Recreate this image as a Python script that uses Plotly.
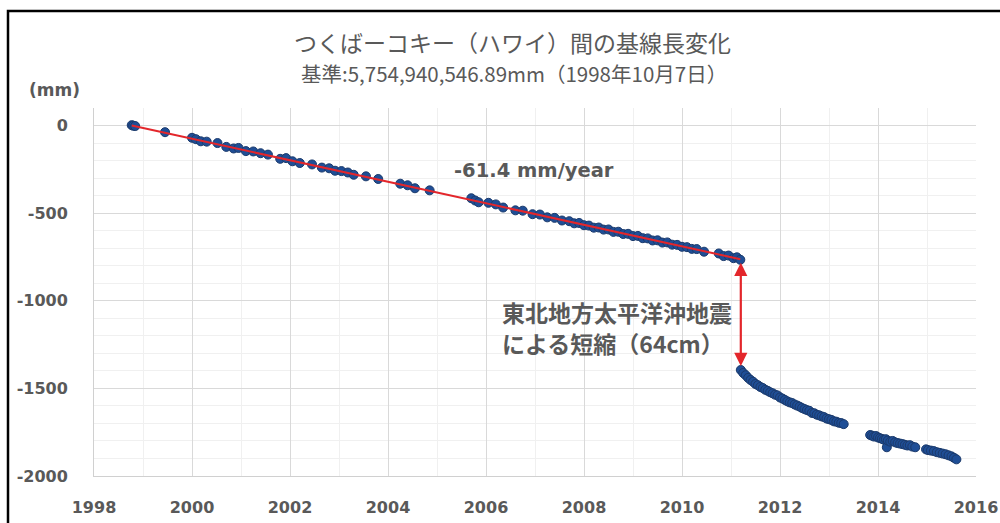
import plotly.graph_objects as go

# Baseline length change, Tsukuba - Kokee (Hawaii), relative to 1998-10-07 (mm)
pre_t = [1998.77, 1998.80, 1998.84, 1999.45, 2000.00, 2000.08, 2000.18, 2000.30,
         2000.52, 2000.70, 2000.85, 2000.95, 2001.10, 2001.25, 2001.40, 2001.55,
         2001.80, 2001.92, 2002.05, 2002.20, 2002.45, 2002.65, 2002.80, 2002.92,
         2003.05, 2003.18, 2003.30, 2003.55, 2003.80, 2004.25, 2004.40, 2004.55,
         2004.85, 2005.70, 2005.78, 2005.85, 2006.05, 2006.20, 2006.35, 2006.60,
         2006.75, 2006.95, 2007.10, 2007.25, 2007.40, 2007.55, 2007.70, 2007.80,
         2007.90, 2008.00, 2008.10, 2008.20, 2008.30, 2008.40, 2008.50, 2008.60,
         2008.70, 2008.80, 2008.90, 2009.00, 2009.10, 2009.20, 2009.30, 2009.40,
         2009.50, 2009.60, 2009.70, 2009.80, 2009.90, 2010.00, 2010.10, 2010.20,
         2010.30, 2010.45, 2010.75, 2010.85, 2010.95, 2011.05, 2011.12, 2011.19]
pre_v = [2, -1, -3, -38, -70, -78, -90, -92,
         -100, -122, -131, -128, -146, -148, -158, -166,
         -190, -186, -204, -214, -222, -240, -244, -258,
         -260, -268, -281, -290, -305, -332, -341, -358,
         -370, -415, -428, -438, -441, -450, -468, -484,
         -486, -506, -508, -524, -527, -542, -546, -558,
         -556, -569, -571, -583, -582, -594, -593, -607,
         -606, -619, -618, -631, -630, -643, -644, -656,
         -655, -668, -667, -680, -681, -692, -694, -704,
         -705, -720, -730, -745, -742, -757, -752, -766]

post_t = [2011.20, 2011.25, 2011.30, 2011.35, 2011.40, 2011.45, 2011.50, 2011.55,
          2011.60, 2011.65, 2011.70, 2011.75, 2011.80, 2011.85, 2011.90, 2011.95,
          2012.00, 2012.05, 2012.10, 2012.15, 2012.20, 2012.25, 2012.30, 2012.35,
          2012.40, 2012.45, 2012.50, 2012.55, 2012.60, 2012.65, 2012.70, 2012.75,
          2012.80, 2012.85, 2012.90, 2012.95, 2013.00, 2013.05, 2013.10, 2013.15,
          2013.20, 2013.25, 2013.30,
          2013.84, 2013.88, 2013.92, 2013.96, 2014.00, 2014.04, 2014.08, 2014.12,
          2014.16, 2014.18, 2014.20, 2014.25, 2014.30, 2014.35, 2014.40, 2014.45,
          2014.50, 2014.55, 2014.60, 2014.65, 2014.70, 2014.76, 2014.98, 2015.02,
          2015.08, 2015.14, 2015.20, 2015.26, 2015.32, 2015.38, 2015.44, 2015.50,
          2015.55, 2015.60]
post_v = [-1395, -1412, -1425, -1440, -1452, -1462, -1475, -1482,
          -1492, -1498, -1508, -1514, -1522, -1528, -1536, -1540,
          -1552, -1558, -1566, -1574, -1580, -1584, -1592, -1598,
          -1604, -1612, -1618, -1624, -1628, -1640, -1642, -1650,
          -1654, -1660, -1664, -1672, -1676, -1680, -1688, -1690,
          -1696, -1698, -1704,
          -1766, -1770, -1775, -1772, -1780, -1784, -1788, -1793,
          -1790, -1836, -1798, -1804, -1800, -1808, -1812, -1815,
          -1818, -1822, -1826, -1824, -1832, -1836, -1848, -1852,
          -1855, -1858, -1864, -1868, -1872, -1876, -1882, -1888,
          -1896, -1905]

# Linear trend before the 2011 earthquake
trend_rate = -61.4          # mm/year
trend_t = [1998.77, 2011.19]
trend_v = [0, round(trend_rate * (2011.19 - 1998.77), 1)]

# Co-seismic shortening arrow ends
quake_t = 2011.20
arrow_top = -775
arrow_bottom = -1372

x_ticks = [1998, 2000, 2002, 2004, 2006, 2008, 2010, 2012, 2014, 2016]
y_ticks = [0, -500, -1000, -1500, -2000]
y_ticktext = ["0", "-500", "-1000", "-1500", "-2000"]

GRAY = "#595959"
JP = "Noto Sans CJK JP"
SANS = "DejaVu Sans"

# plot area in pixels
W, H = 1000, 523
ML, MR, MT, MB = 94, 24, 108, 47
PW, PH = W - ML - MR, H - MT - MB


def px(x):
    return (x - ML) / PW


def py(y):
    return (H - MB - y) / PH


marker = dict(size=9, color="#1F4E96", line=dict(color="#1B3A6B", width=1))

fig = go.Figure()
fig.add_trace(go.Scatter(x=pre_t, y=pre_v, mode="markers", marker=marker,
                         showlegend=False, hoverinfo="skip"))
fig.add_trace(go.Scatter(x=post_t, y=post_v, mode="markers", marker=marker,
                         showlegend=False, hoverinfo="skip"))
fig.add_trace(go.Scatter(x=trend_t, y=trend_v, mode="lines",
                         line=dict(color="#E3262B", width=2),
                         showlegend=False, hoverinfo="skip"))


def note(x, y, text, size, family=JP, anchor="center", bold=False):
    return dict(x=px(x), y=py(y), xref="paper", yref="paper", xanchor=anchor,
                yanchor="middle", text=f"<b>{text}</b>" if bold else text,
                showarrow=False, font=dict(family=family, size=size, color=GRAY))


annotations = [
    note(512, 42, "つくばーコキー（ハワイ）間の基線長変化", 23),
    note(514, 73, "基準:5,754,940,546.89mm（1998年10月7日）", 20.5),
    note(54, 90, "(mm)", 17, family=SANS, bold=True),
    note(616, 170, f"{trend_rate} mm/year", 19.5, family=SANS, anchor="right", bold=True),
    note(500, 312, "東北地方太平洋沖地震", 23, anchor="left", bold=True),
    note(500, 343, "による短縮（64cm）", 23, anchor="left", bold=True),
    dict(x=quake_t, y=arrow_bottom, ax=quake_t, ay=arrow_top, xref="x", yref="y",
         axref="x", ayref="y", text="", showarrow=True, arrowside="end+start",
         arrowhead=2, arrowsize=1.2, arrowwidth=2.2, arrowcolor="#E3262B"),
]

tickfont = dict(family=SANS, size=16, color=GRAY, weight="bold")

fig.update_layout(
    width=W, height=H,
    margin=dict(l=ML, r=MR, t=MT, b=MB, autoexpand=False),
    paper_bgcolor="white", plot_bgcolor="white",
    annotations=annotations,
    shapes=[dict(type="rect", xref="paper", yref="paper",
                 x0=px(8), x1=px(1012), y0=py(540), y1=py(11),
                 line=dict(color="black", width=2.5), layer="above")],
    xaxis=dict(range=[1998, 2016], tickvals=x_ticks, showgrid=True,
               gridcolor="#D9D9D9", gridwidth=1, zeroline=False, automargin=False,
               showline=True, linecolor="#D0D0D0", linewidth=1,
               ticks="", ticklabelstandoff=17,
               minor=dict(dtick=1, tick0=1998, showgrid=True, gridcolor="#F0F0F0"),
               tickfont=tickfont),
    yaxis=dict(range=[-2000, 100], tickvals=y_ticks, ticktext=y_ticktext,
               showgrid=True, gridcolor="#D9D9D9", gridwidth=1, zeroline=False,
               automargin=False,
               showline=True, linecolor="#D0D0D0", linewidth=1,
               ticks="", ticklabelstandoff=22,
               minor=dict(dtick=100, tick0=0, showgrid=True, gridcolor="#F0F0F0"),
               tickfont=tickfont),
)

fig.write_html("out.html")
